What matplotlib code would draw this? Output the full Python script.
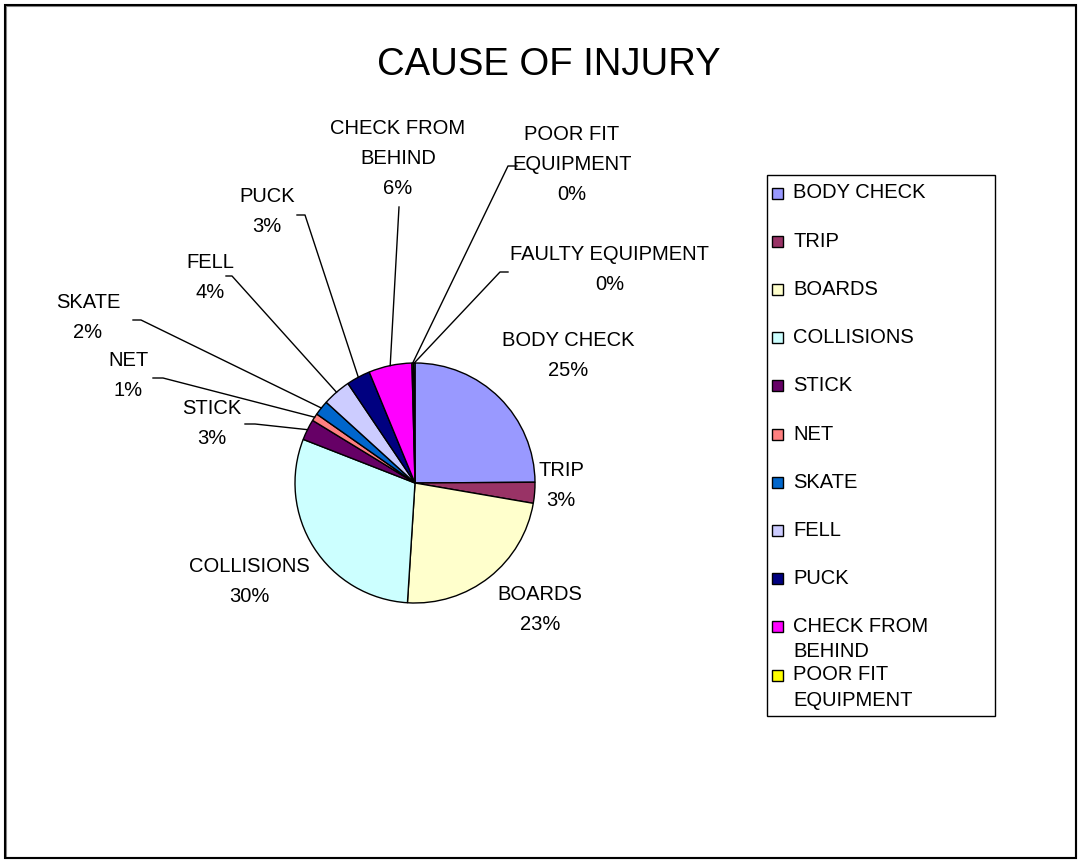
import matplotlib
matplotlib.use('Agg')
import matplotlib.pyplot as plt
import numpy as np
from matplotlib.patches import Rectangle

plt.rcParams['font.family'] = ['Liberation Sans', 'DejaVu Sans']

# data (share of injuries, %)
causes = ['BODY CHECK', 'TRIP', 'BOARDS', 'COLLISIONS', 'STICK', 'NET', 'SKATE',
          'FELL', 'PUCK', 'CHECK FROM BEHIND', 'POOR FIT EQUIPMENT', 'FAULTY EQUIPMENT']
shares = [24.8, 2.8, 23.2, 29.8, 2.8, 1.0, 2.0, 3.8, 3.2, 5.8, 0.2, 0.2]
colors = ['#9999FF', '#993366', '#FFFFCC', '#CCFFFF', '#660066', '#FF8080', '#0066CC',
          '#CCCCFF', '#000080', '#FF00FF', '#FFFF00', '#00FFFF']
pie_labels = ['BODY CHECK', 'TRIP', 'BOARDS', 'COLLISIONS', 'STICK', 'NET', 'SKATE',
              'FELL', 'PUCK', 'CHECK FROM\nBEHIND', 'POOR FIT\nEQUIPMENT', 'FAULTY EQUIPMENT']
legend_labels = ['BODY CHECK', 'TRIP', 'BOARDS', 'COLLISIONS', 'STICK', 'NET', 'SKATE',
                 'FELL', 'PUCK', 'CHECK FROM\nBEHIND', 'POOR FIT\nEQUIPMENT']

# label placement in pixels (text centre, leader start, elbow length)
label_pos = [(568, 355), (561, 486), (540, 609), (249, 582), (212, 423), (128, 376),
             (88, 318), (210, 278), (267, 212), (398, 158), (572, 165), (610, 270)]
leader = [None, None, None, None, (245, 424, 10), (153, 378, 10), (133, 320, 8),
          (226, 276, 6), (297, 215, 8), (399, 207, 0), (517, 166, -9), (508, 272, -8)]

W, H = 1082, 861
fig = plt.figure(figsize=(W / 100, H / 100), dpi=100)
ax = fig.add_axes([0, 0, 1, 1])

cx, cy, r = 415, 483, 120
wedges, _ = ax.pie(shares, colors=colors, center=(cx, cy), radius=r, startangle=-90,
                   counterclock=True, frame=True,
                   wedgeprops=dict(edgecolor='black', linewidth=1))
ax.set_xlim(0, W)
ax.set_ylim(H, 0)
ax.set_aspect('equal')
ax.axis('off')

# chart border
ax.add_patch(Rectangle((6, 6), 1070, 852, fill=False, ec='#888888', lw=1.5))
ax.add_patch(Rectangle((5, 5), 1071, 853, fill=False, ec='black', lw=1.5))

total = sum(shares)
for w, lab, pos, ld, v in zip(wedges, pie_labels, label_pos, leader, shares):
    pct = round(v / total * 100)
    lines = lab.split('\n') + [f'{pct}%']
    n = len(lines)
    for k, line in enumerate(lines):
        ax.text(pos[0], pos[1] + (k - (n - 1) / 2) * 30, line, ha='center', va='center',
                fontsize=14.5)
    if ld is not None:
        mid = np.deg2rad((w.theta1 + w.theta2) / 2)
        ex, ey = cx + r * np.cos(mid), cy + r * np.sin(mid)
        ax.plot([ld[0], ld[0] + ld[2], ex], [ld[1], ld[1], ey], color='black', lw=1)

ax.text(549, 65, 'CAUSE OF INJURY', ha='center', va='center', fontsize=27.5)

# legend
ax.add_patch(Rectangle((767, 175), 228, 541, fill=False, ec='black', lw=1))
for i, (lab, col) in enumerate(zip(legend_labels, colors)):
    y = 193 + i * 48.2
    ax.add_patch(Rectangle((772, y - 5.5), 11, 11, fc=col, ec='black', lw=1))
    for k, line in enumerate(lab.split('\n')):
        ax.text(793, y + k * 25, line, ha='left', va='center', fontsize=14.5)

fig.savefig('out.png', dpi=100)
